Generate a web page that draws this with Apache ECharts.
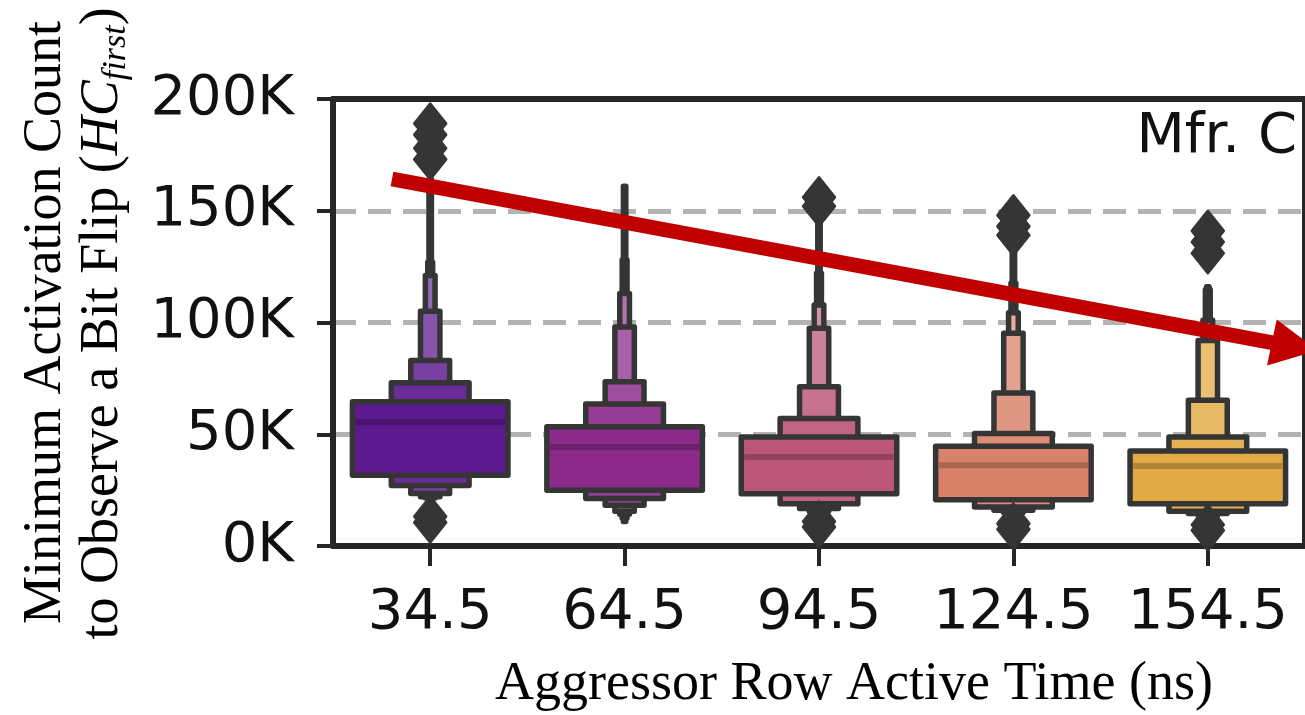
<!DOCTYPE html>
<html><head><meta charset="utf-8">
<script src="https://cdn.jsdelivr.net/npm/echarts@6/dist/echarts.min.js"></script>
<style>html,body{margin:0;padding:0;background:#fff}#c{width:1305px;height:715px}</style>
</head><body><div id="c"></div>
<script>
// ---- data (values in thousands) ----
const categories = ['34.5', '64.5', '94.5', '124.5', '154.5'];
// letter-value box tops, level 0 = widest (IQR) box
const upperLevels = [
  [64.5, 73, 83, 105, 121, 127, 164],
  [53.3, 63.5, 73.5, 98, 113, 128, 161],
  [48.8, 57, 71.2, 97.4, 107.8, 122, 146],
  [44.6, 50.3, 68.5, 95.2, 104.4, 117.6, 132],
  [42.5, 48.8, 65.2, 91.9, 101, 114.6, 116]
];
// letter-value box bottoms
const lowerLevels = [
  [31.6, 27.1, 23.5, 22, 21.5, 21, 20.5],
  [24.9, 21.2, 18.2, 15.5, 14.2, 12.5, 11],
  [23.4, 18.9, 16.8, 15.5, 14.5, 13.5, 13],
  [20.7, 17.4, 16, 15, 14.5, 14, 13.5],
  [18.9, 15.6, 14.5, 13.8, 13.2, 12.8, 12.5]
];
const medians = [55.5, 44.3, 39.8, 36.1, 35.8];
const highOutliers = [[189, 184, 178, 173], [], [156, 152], [148, 143, 139], [141, 136, 131]];
const lowOutliers = [[13.2, 10.5], [], [11, 8.5], [10, 7.5], [9.5, 7]];
const yTickValues = [0, 50, 100, 150, 200];
const boxColors = ['#5c1a8e', '#8b2a8b', '#bb5678', '#d9826a', '#e2aa45'];
const annotationText = 'Mfr. C';

function hexToRgb(h) { h = h.replace('#', ''); return [0, 2, 4].map(i => parseInt(h.substr(i, 2), 16)); }
function mix(h, target, t) {
  const a = hexToRgb(h), b = hexToRgb(target);
  const c = a.map((v, i) => Math.round(v + (b[i] - v) * t));
  return 'rgb(' + c.join(',') + ')';
}
const EDGE = '#353535';
const SPINE = { show: true, onZero: false, lineStyle: { color: '#262626', width: 6 } };

const chart = echarts.init(document.getElementById('c'), null, { renderer: 'canvas' });

const option = {
  backgroundColor: '#ffffff',
  animation: false,
  grid: { left: 333, right: -2, top: 99, bottom: 169, show: false },
  xAxis: [{
    type: 'category',
    data: categories,
    boundaryGap: true,
    position: 'bottom',
    axisLine: SPINE,
    axisTick: { show: true, alignWithLabel: true, length: 20, lineStyle: { color: '#262626', width: 4 } },
    axisLabel: { interval: 0, margin: 39, fontSize: 56, fontFamily: 'DejaVu Sans', color: '#111' },
    splitLine: { show: false }
  }, {
    type: 'category',
    data: categories,
    position: 'top',
    axisLine: SPINE,
    axisTick: { show: false },
    axisLabel: { show: false },
    splitLine: { show: false }
  }],
  yAxis: [{
    type: 'value',
    min: 0, max: 200000, interval: 50000,
    position: 'left',
    axisLine: SPINE,
    axisTick: { show: true, length: 16, lineStyle: { color: '#262626', width: 4 } },
    axisLabel: {
      margin: 39, fontSize: 56, fontFamily: 'DejaVu Sans', color: '#111',
      formatter: v => (yTickValues.indexOf(v / 1000) >= 0 ? (v / 1000) + 'K' : '')
    },
    splitLine: { show: true, lineStyle: { color: '#b3b3b3', width: 5, type: [23, 12] } }
  }, {
    type: 'value',
    min: 0, max: 200000, interval: 50000,
    position: 'right',
    axisLine: SPINE,
    axisTick: { show: false },
    axisLabel: { show: false },
    splitLine: { show: false }
  }],
  series: [{
    type: 'custom',
    data: categories.map((c, i) => [i, medians[i] * 1000]),
    encode: { x: 0, y: 1 },
    clip: false,
    z: 5,
    renderItem: function (params, api) {
      const i = api.value(0);
      const cx = api.coord([i, 0])[0];
      const bw = api.size([1, 0])[0];
      const ups = upperLevels[i], lows = lowerLevels[i];
      const base = boxColors[i];
      const children = [];
      for (let k = ups.length - 1; k >= 0; k--) {
        const w = bw * 0.8 / Math.pow(2, k);
        const yT = api.coord([i, ups[k] * 1000])[1];
        const yB = api.coord([i, lows[k] * 1000])[1];
        children.push({
          type: 'rect',
          shape: { x: cx - w / 2, y: yT, width: w, height: yB - yT },
          style: { fill: mix(base, '#ffffff', Math.min(0.085 * k, 0.5)), stroke: EDGE, lineWidth: 5.5, lineJoin: 'round' }
        });
      }
      const ym = api.coord([i, medians[i] * 1000])[1];
      const hw = bw * 0.4 - 3;
      children.push({
        type: 'line',
        shape: { x1: cx - hw, y1: ym, x2: cx + hw, y2: ym },
        style: { stroke: mix(base, '#000000', 0.22), lineWidth: 6 }
      });
      const outs = highOutliers[i].concat(lowOutliers[i]);
      outs.forEach(v => {
        const y = api.coord([i, v * 1000])[1];
        children.push({
          type: 'polygon',
          shape: { points: [[cx, y - 20], [cx + 16, y], [cx, y + 20], [cx - 16, y]] },
          style: { fill: EDGE, stroke: EDGE, lineWidth: 2.5, lineJoin: 'round' }
        });
      });
      return { type: 'group', children: children };
    }
  }],
  graphic: [
    {
      type: 'text', x: 1297, y: 137, z: 50,
      style: { text: annotationText, align: 'right', verticalAlign: 'middle', font: '56px "DejaVu Sans"', fill: '#111' }
    },
    {
      type: 'text', x: 854, y: 685, z: 50,
      style: { text: 'Aggressor Row Active Time (ns)', align: 'center', verticalAlign: 'middle', font: '54px "Liberation Serif"', fill: '#000' }
    },
    {
      type: 'text', x: 45.5, y: 322.5, rotation: Math.PI / 2, z: 50,
      style: { text: 'Minimum Activation Count', align: 'center', verticalAlign: 'middle', font: '54px "Liberation Serif"', fill: '#000' }
    },
    {
      type: 'text', x: 103, y: 323.5, rotation: Math.PI / 2, z: 50,
      style: {
        text: '{a|to Observe a Bit Flip (}{i|HC}{s|first}{a|)}',
        align: 'center', verticalAlign: 'middle', fill: '#000',
        rich: {
          a: { fontFamily: 'Liberation Serif', fontSize: 54, fill: '#000', lineHeight: 60 },
          i: { fontFamily: 'Liberation Serif', fontSize: 54, fontStyle: 'italic', fill: '#000', lineHeight: 60 },
          s: { fontFamily: 'Liberation Serif', fontSize: 34, fontStyle: 'italic', fill: '#000', verticalAlign: 'bottom', lineHeight: 46 }
        }
      }
    },
    {
      type: 'line', z: 60,
      shape: { x1: 392, y1: 179, x2: 1274, y2: 343 },
      style: { stroke: '#c00000', lineWidth: 15, lineCap: 'butt' }
    },
    {
      type: 'polygon', z: 60,
      shape: { points: [[1276.7, 319.5], [1318, 350.5], [1267, 365.5]] },
      style: { fill: '#c00000' }
    }
  ]
};
chart.setOption(option);
</script>
</body></html>
